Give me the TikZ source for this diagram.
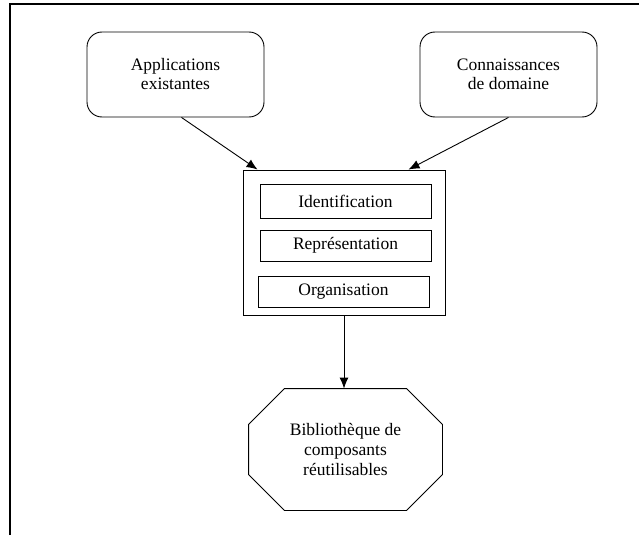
\documentclass[tikz,border=0pt]{standalone}
\usepackage{fontspec}
\setmainfont{Liberation Serif}
\usetikzlibrary{arrows.meta}

\begin{document}
\begin{tikzpicture}[
	x=1pt, y=-1pt,
	line width=0.9pt,
	font=\fontsize{17.5}{19}\selectfont
	]
	\useasboundingbox (0, 0) rectangle (639, 535);

	\draw [line width=2.5pt] (10, 535) -- (10, 4) -- (639, 4);

 	\node (apps) at (175.5, 74.5) [draw, rounded corners=15pt, minimum width=177pt, minimum height=85pt, align=center] {Applications\\existantes};
 	\node (conn) at (508.5, 74.5) [draw, rounded corners=15pt, minimum width=177pt, minimum height=85pt, align=center] {Connaissances\\de domaine};

 	\node (outer) at (344, 242.5) [draw, minimum width=202pt, minimum height=145pt] {};
 	\node (ident) at (345.5, 201) [draw, minimum width=171pt, minimum height=34pt] {Identification};
 	\node (repr) at (345.5, 245.5) [draw, minimum width=171pt, minimum height=31pt] {Représentation};
 	\node (orga) at (343.5, 291.5) [draw, minimum width=171pt, minimum height=31pt] {Organisation};

 	\node (lib) at (345.5, 449.5) [minimum width=193pt, minimum height=121pt, inner sep=0pt, align=center, font=\fontsize{17.5}{20}\selectfont] {Bibliothèque de\\composants\\réutilisables};
	\draw ([xshift=36pt]lib.north west) -- ([xshift=-36pt]lib.north east)
		-- ([yshift=-36pt]lib.north east) -- ([yshift=36pt]lib.south east)
		-- ([xshift=-36pt]lib.south east) -- ([xshift=36pt]lib.south west)
		-- ([yshift=36pt]lib.south west) -- ([yshift=-36pt]lib.north west) -- cycle;

	\coordinate (inl) at ([xshift=15pt]outer.north west);
	\coordinate (inr) at ([xshift=-37pt]outer.north east);
	\draw [-{Latex[length=11pt, width=9pt]}] ([xshift=6pt]apps.south) -- (inl);
	\draw [-{Latex[length=11pt, width=9pt]}] (conn.south) -- (inr);
	\draw [-{Latex[length=11pt, width=9pt]}] (outer.south) -- (outer.south |- lib.north);
\end{tikzpicture}
\end{document}
